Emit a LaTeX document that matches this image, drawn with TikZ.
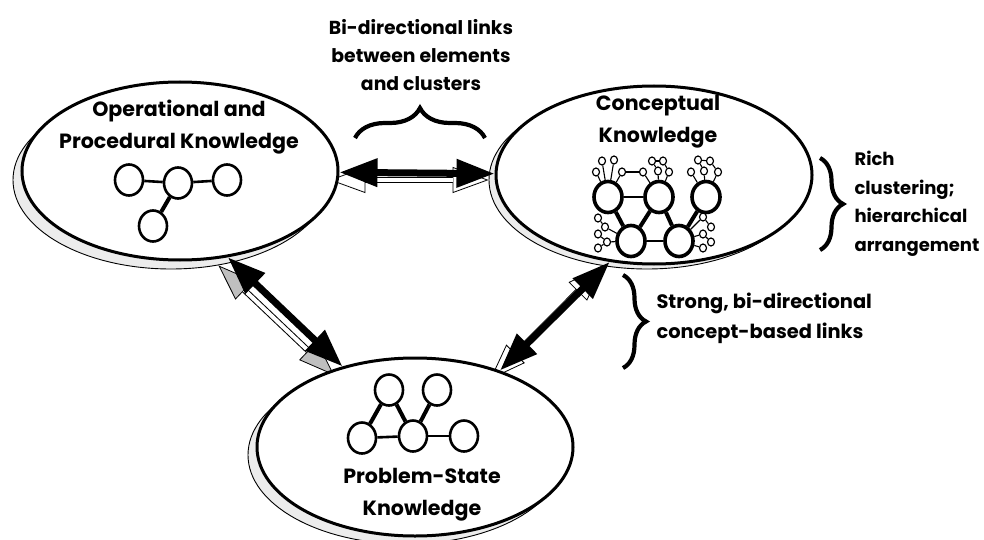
\documentclass[tikz,border=0pt]{standalone}
\usepackage{fontspec}
\setmainfont{Poppins}
\usetikzlibrary{arrows.meta,shapes.geometric,decorations.pathreplacing}
\begin{document}
\begin{tikzpicture}[x=1pt,y=-1pt,node distance={49pt},
	main/.style = {draw, ellipse, line width=3pt, fill=white, minimum width=316pt, minimum height=178pt, inner sep=0pt},
	shade/.style = {draw, ellipse, line width=0.9pt, fill=gray!15, minimum width=316pt, minimum height=178pt, inner sep=0pt},
	knot/.style = {draw, ellipse, line width=2.6pt, fill=white, minimum width=28pt, minimum height=31pt, inner sep=0pt},
	bigknot/.style = {knot, line width=3.6pt},
	tiny/.style = {draw, ellipse, line width=1.2pt, fill=white, minimum width=7pt, minimum height=8pt, inner sep=0pt},
	link/.style = {line width=7pt, {Stealth[length=38pt,width=27pt,inset=0pt]}-{Stealth[length=38pt,width=27pt,inset=0pt]}},
	linkshade/.style = {line width=6pt, {Stealth[length=36pt,width=26pt,inset=0pt,fill=#1,line width=0.8pt]}-{Stealth[length=36pt,width=26pt,inset=0pt,fill=#1,line width=0.8pt]}},
	linkcore/.style = {line width=4pt, white, shorten >=36pt, shorten <=36pt},
	tie/.style = {line width=2.6pt},
	thicktie/.style = {line width=4pt},
	fine/.style = {line width=1.1pt},
	bracket/.style = {line width=4.2pt, decorate, decoration={brace,amplitude=#1}},
	caption/.style = {align=center, font=\bfseries\fontsize{20.6}{32}\selectfont},
	label/.style = {align=center, font=\bfseries\fontsize{18.8}{28}\selectfont},
	side/.style = {align=left, anchor=west, font=\bfseries\fontsize{18}{28.5}\selectfont},
	sidewide/.style = {side, font=\bfseries\fontsize{19.4}{30}\selectfont}]
	\useasboundingbox (0,0) rectangle (984,540);
	\fill[white] (0,0) rectangle (984,540);

	% shadows behind the three ovals
	\node[shade] (s1) at (171,180) {};
	\node[shade] (s2) at (647,180) {};
	\node[shade] (s3) at (406,455) {};

	% shadows of the arrows
	\draw[linkshade=gray!50] (s1.-61)--(s3.132);
	\draw[linkcore] (s1.-61)--(s3.132);
	\draw[linkshade=white] (s2.-117)--(s3.42);
	\draw[linkcore] (s2.-117)--(s3.42);
	\draw[linkshade=white] (s1)--(s2);
	\draw[linkcore] (s1)--(s2);

	\node[main] (op) at (180,171) {};
	\node[main] (con) at (654,175) {};
	\node[main] (pr) at (415,447) {};

	\node[caption] (tx1) at (179,127) {Operational and\\Procedural Knowledge};
	\node[caption] (tx2) at (658,122) {Conceptual\\Knowledge};
	\node[caption] (tx3) at (422,495) {Problem-State\\Knowledge};
	\node[label] (tx4) at (421,55) {Bi-directional links\\between elements\\and clusters};
	\node[side] (tx5) at (851,204) {Rich\\clustering;\\hierarchical\\arrangement};
	\node[sidewide] (tx6) at (653,318) {Strong, bi-directional\\concept-based links};

	% operational
	\node[knot] (a1) at (129,180) {};
	\node[knot] (a2) [yshift=-3pt,right of=a1] {};
	\node[knot] (a3) [yshift=3pt,right of=a2] {};
	\node[knot] (a4) [xshift=-25pt,yshift=6pt,below of=a2] {};
	\draw[tie] (a1)--(a2);
	\draw[tie] (a2)--(a3);
	\draw[thicktie] (a2)--(a4);

	% problem state
	\node[knot] (b1) at (362,438) {};
	\node[knot] (b2) [xshift=2pt,yshift=2pt,right of=b1] {};
	\node[knot] (b3) [xshift=2pt,right of=b2] {};
	\node[knot] (b4) [xshift=-24pt,yshift=-3pt,above of=b2] {};
	\node[knot] (b5) [xshift=24pt,yshift=-3pt,above of=b2] {};
	\draw[tie] (b1)--(b2);
	\draw[tie] (b2)--(b3);
	\draw[thicktie] (b1)--(b4);
	\draw[thicktie] (b4)--(b2);
	\draw[thicktie] (b2)--(b5);

	% conceptual
	\node[bigknot] (c1) at (608,197) {};
	\node[bigknot] (c2) [xshift=2pt,right of=c1] {};
	\node[bigknot] (c3) [xshift=-2pt,right of=c2] {};
	\node[bigknot] (c4) [xshift=23pt,yshift=5pt,below of=c1] {};
	\node[bigknot] (c5) [xshift=-1pt,right of=c4] {};
	\draw[tie] (c1)--(c2);
	\draw[tie] (c4)--(c5);
	\draw[thicktie] (c1)--(c4);
	\draw[thicktie] (c2)--(c4);
	\draw[thicktie] (c2)--(c5);
	\draw[thicktie] (c3)--(c5);

	\node[tiny] (d1) at (602,161) {};
	\node[tiny] (d2) at (614,160) {};
	\node[tiny] (d3) at (596,172) {};
	\node[tiny] (d4) at (622,172) {};
	\node[tiny] (d5) at (643,172) {};
	\node[tiny] (d6) at (652,161) {};
	\node[tiny] (d7) at (663,161) {};
	\node[tiny] (d8) at (658,171) {};
	\node[tiny] (d9) at (669,172) {};
	\node[tiny] (d10) at (698,160) {};
	\node[tiny] (d11) at (710,161) {};
	\node[tiny] (d12) at (691,172) {};
	\node[tiny] (d13) at (704,171) {};
	\node[tiny] (d14) at (718,172) {};
	\node[tiny] (e1) at (598,218) {};
	\node[tiny] (e2) at (605,227) {};
	\node[tiny] (e3) at (598,234) {};
	\node[tiny] (e4) at (607,242) {};
	\node[tiny] (e5) at (598,248) {};
	\node[tiny] (f1) at (703,217) {};
	\node[tiny] (f2) at (711,227) {};
	\node[tiny] (f3) at (703,234) {};
	\node[tiny] (f4) at (711,242) {};
	\node[tiny] (f5) at (703,248) {};

	\draw[fine] (c1)--(d1);
	\draw[fine] (c1)--(d2);
	\draw[fine] (c1)--(d3);
	\draw[fine] (c1)--(d4);
	\draw[fine] (d4)--(d5);
	\draw[fine] (c2)--(d5);
	\draw[fine] (c2)--(d8);
	\draw[fine] (c2)--(d9);
	\draw[fine] (d6)--(d7);
	\draw[fine] (d6)--(d8);
	\draw[fine] (d7)--(d9);
	\draw[fine] (c3)--(d12);
	\draw[fine] (c3)--(d13);
	\draw[fine] (c3)--(d14);
	\draw[fine] (d10)--(d11);
	\draw[fine] (d10)--(d13);
	\draw[fine] (d11)--(d14);
	\draw[fine] (c4)--(e2);
	\draw[fine] (c4)--(e4);
	\draw[fine] (e1)--(e2);
	\draw[fine] (e3)--(e4);
	\draw[fine] (e4)--(e5);
	\draw[fine] (c5)--(f1);
	\draw[fine] (c5)--(f3);
	\draw[fine] (c5)--(f5);
	\draw[fine] (f1)--(f2);
	\draw[fine] (f3)--(f4);

	% arrows
	\draw[link] (op.-61)--(pr.132);
	\draw[link] (con.-117)--(pr.42);
	\draw[link] (op)--(con);

	\coordinate (u1) at (355,138);
	\coordinate (u2) at (485,138);
	\coordinate (v1) at (820,158);
	\coordinate (v2) at (820,250);
	\coordinate (w1) at (623,275);
	\coordinate (w2) at (623,368);
	\draw[bracket=30pt] (u1)--(u2);
	\draw[bracket=23pt] (v1)--(v2);
	\draw[bracket=23pt] (w1)--(w2);
\end{tikzpicture}
\end{document}
